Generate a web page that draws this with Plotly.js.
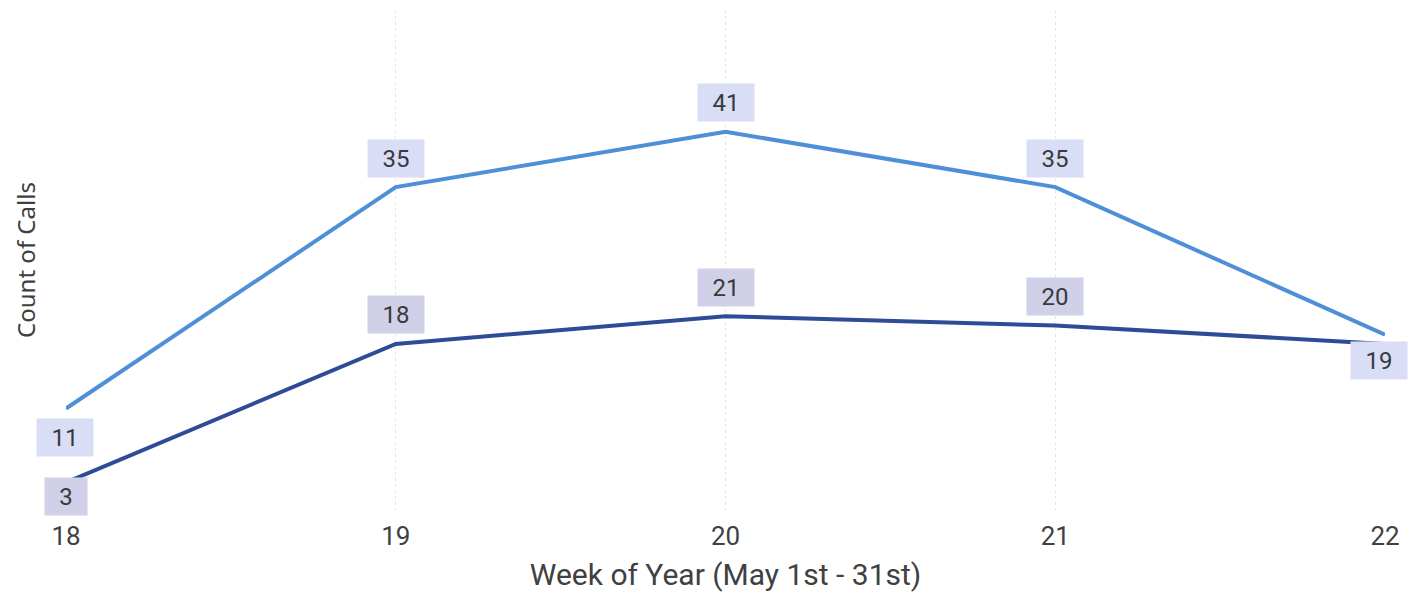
<!DOCTYPE html>
<html>
<head>
<meta charset="utf-8">
<script src="https://cdn.plot.ly/plotly-3.0.1.min.js"></script>
<style>html,body{margin:0;padding:0;background:#fff;}#chart{width:1418px;height:592px;}</style>
</head>
<body>
<div id="chart"></div>
<script>
const weeks = [18, 19, 20, 21, 22];
const seriesLight = [11, 35, 41, 35, 19];
const seriesDark = [3, 18, 21, 20, 18];
const tickLabels = ['18', '19', '20', '21', '22'];

const lightColor = '#4f8fd8';
const darkColor = '#2d4b96';
const lightLabelBg = '#d9ddf5';
const darkLabelBg = '#d0d0e8';

const traces = [
  {x: weeks, y: seriesLight, type: 'scatter', mode: 'lines', line: {color: lightColor, width: 4}, hoverinfo: 'skip'},
  {x: weeks, y: seriesDark, type: 'scatter', mode: 'lines', line: {color: darkColor, width: 4}, hoverinfo: 'skip'}
];

// label placement: pixel offsets per point (style only)
const lightShift = [[-1, -29], [0, 29], [0, 29], [0, 29], [-6, -26]];
const darkShift = [[0, -14], [0, 29], [0, 29], [0, 29], null];

const annotations = [];
function addLabels(vals, shifts, bg) {
  vals.forEach((v, i) => {
    if (!shifts[i]) return;
    const t = String(v);
    annotations.push({
      x: weeks[i], y: v, xref: 'x', yref: 'y', text: t, showarrow: false,
      xshift: shifts[i][0], yshift: shifts[i][1],
      bgcolor: bg, width: t.length * 14 + 26, height: 35,
      font: {family: 'Roboto, sans-serif', size: 24, color: '#3a3a3a'}
    });
  });
}
addLabels(seriesLight, lightShift, lightLabelBg);
addLabels(seriesDark, darkShift, darkLabelBg);

const layout = {
  width: 1418, height: 592,
  margin: {l: 66, r: 33, t: 10, b: 82},
  paper_bgcolor: '#ffffff', plot_bgcolor: '#ffffff',
  showlegend: false,
  font: {family: 'Roboto, sans-serif', color: '#444'},
  xaxis: {
    range: [18, 22], tickvals: weeks, ticktext: tickLabels,
    showgrid: true, gridcolor: '#e4e4e4', griddash: 'dot', gridwidth: 1,
    zeroline: false, showline: false, ticks: '', ticklabelstandoff: 8,
    tickfont: {size: 26, color: '#404040'},
    title: {text: 'Week of Year (May 1st - 31st)', font: {size: 30, color: '#404040'}, standoff: 16}
  },
  yaxis: {
    range: [0, 54.2], showgrid: false, zeroline: false, showticklabels: false, ticks: '',
    title: {text: 'Count of Calls', font: {family: 'Noto Sans, sans-serif', size: 24, color: '#404040'}, standoff: 22}
  },
  annotations: annotations
};

Plotly.newPlot('chart', traces, layout, {staticPlot: true, displayModeBar: false});
</script>
</body>
</html>
